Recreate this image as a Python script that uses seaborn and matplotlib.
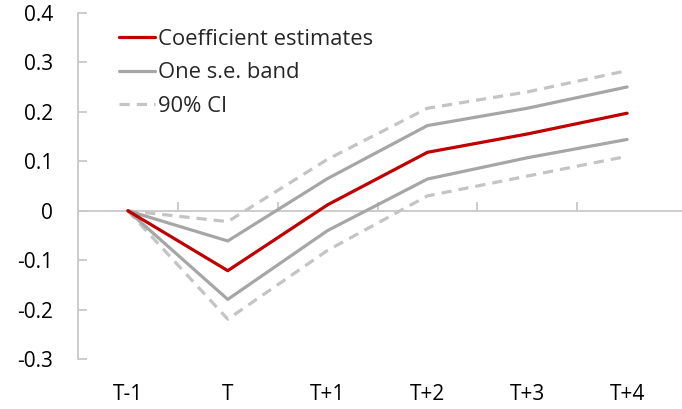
import matplotlib
matplotlib.use("Agg")
import matplotlib.pyplot as plt
import seaborn as sns
import pandas as pd
import numpy as np

categories = ["T-1", "T", "T+1", "T+2", "T+3", "T+4"]
coef = [0.0, -0.121, 0.012, 0.118, 0.155, 0.197]
se_upper = [0.0, -0.061, 0.065, 0.172, 0.207, 0.250]
se_lower = [0.0, -0.179, -0.040, 0.064, 0.107, 0.144]
ci_upper = [0.0, -0.022, 0.104, 0.207, 0.240, 0.283]
ci_lower = [0.0, -0.219, -0.080, 0.030, 0.070, 0.110]
y_ticks = [-0.3, -0.2, -0.1, 0, 0.1, 0.2, 0.3, 0.4]
y_tick_labels = ["-0.3", "-0.2", "-0.1", "0", "0.1", "0.2", "0.3", "0.4"]

sns.set_style("white")
plt.rcParams['font.family'] = ['Open Sans', 'DejaVu Sans']

fig = plt.figure(figsize=(6.82, 4.09), dpi=100)
ax = fig.add_axes([78/682, 0.1215, 1 - 78/682, 0.969 - 0.1215])

x = np.arange(len(categories))
red = "#C00000"
gray = "#A6A6A6"
light = "#C4C4C4"
lw = 2.3
fs = 15

sns.lineplot(x=x, y=ci_upper, ax=ax, color=light, lw=lw, label="90% CI")
sns.lineplot(x=x, y=ci_lower, ax=ax, color=light, lw=lw, label="_nolegend_")
sns.lineplot(x=x, y=se_upper, ax=ax, color=gray, lw=lw, label="One s.e. band")
sns.lineplot(x=x, y=se_lower, ax=ax, color=gray, lw=lw, label="_nolegend_")
sns.lineplot(x=x, y=coef, ax=ax, color=red, lw=lw, label="Coefficient estimates")
for ln in ax.lines[:2]:
    ln.set_linestyle((0, (3.2, 2.2)))

ax.set_xlim(-0.5, 5.55)
ax.set_ylim(-0.3, 0.4)

spine_color = "#C8C8C8"
for s in ["top", "right", "bottom"]:
    ax.spines[s].set_visible(False)
ax.spines["left"].set_color(spine_color)
ax.spines["left"].set_linewidth(1.3)

ax.set_yticks(y_ticks)
ax.set_yticklabels(y_tick_labels)
ax.tick_params(axis="y", direction="in", length=6.5, width=1.3, color=spine_color,
               labelsize=fs, pad=18, left=True, labelcolor="#000000")
ax.set_xticks(x)
ax.set_xticklabels(categories)
ax.tick_params(axis="x", length=0, labelsize=fs, pad=18, labelcolor="#000000")

# zero axis with category-boundary tick marks
ax.axhline(0, color=spine_color, lw=1.3, zorder=1)
frac0 = (0 - (-0.3)) / 0.7
sec = ax.secondary_xaxis(frac0)
sec.set_xticks(np.arange(0.5, 5.5, 1.0))
sec.set_xticklabels([])
sec.spines["bottom"].set_visible(False)
sec.spines["top"].set_visible(False)
sec.tick_params(axis="x", direction="in", length=6.5, width=1.3, color=spine_color,
                bottom=True, top=False)

handles, labels = ax.get_legend_handles_labels()
order = [labels.index("Coefficient estimates"), labels.index("One s.e. band"), labels.index("90% CI")]
ax.legend([handles[i] for i in order], [labels[i] for i in order],
          loc="upper left", bbox_to_anchor=(0.045, 0.995), frameon=False,
          fontsize=15.8, handlelength=1.6, handletextpad=0.15, labelspacing=0.58,
          borderaxespad=0.25)

fig.savefig("out.png", dpi=100)
